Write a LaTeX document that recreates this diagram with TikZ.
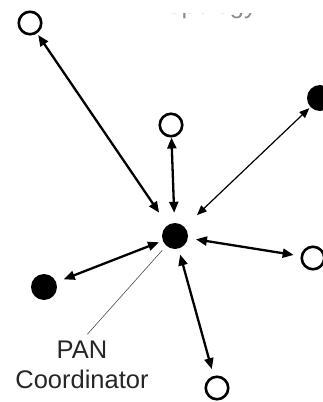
\documentclass[tikz,border=0pt]{standalone}
\usepackage{fontspec}
\setmainfont{Liberation Sans}
\usetikzlibrary{arrows.meta}
\begin{document}
\begin{tikzpicture}[x=1pt,y=-1pt,
  opennode/.style={circle,draw=black,line width=2.6pt,fill=white,minimum size=22.5pt,inner sep=0pt},
  fillnode/.style={circle,fill=black,minimum size=26pt,inner sep=0pt},
  link/.style={line width=2.3pt,{Triangle[length=11pt,width=9pt]}-{Triangle[length=11pt,width=9pt]}},
  thinlink/.style={line width=1.2pt,{Triangle[length=10pt,width=8pt]}-{Triangle[length=10pt,width=8pt]}},
  pointer/.style={line width=0.6pt,draw=black!70},
  lbl/.style={font=\fontsize{25.5}{30}\selectfont,text=black!85,anchor=base,inner sep=0pt}]
\useasboundingbox (0,0) rectangle (323,402);
\clip (0,0) rectangle (323,402);

\begin{scope}
  \clip (0,13) rectangle (323,40);
  \node[lbl,anchor=base west,text=black!45] (title) at (154.5,13) {Topology};
\end{scope}

\node[opennode] (tl) at (30,23) {};
\node[fillnode] (tr) at (320,98) {};
\node[opennode] (tm) at (171,125) {};
\node[fillnode] (c) at (175,236) {};
\node[opennode] (r) at (313,258) {};
\node[fillnode] (l) at (44,287) {};
\node[opennode] (b) at (217,388) {};

\node[lbl] (pan) at (82,358) {PAN};
\node[lbl] (coord) at (82,388) {Coordinator};

\draw[link,shorten <=2pt,shorten >=15pt] (tl) -- (c);
\draw[link,shorten <=0pt,shorten >=10pt] (tm) -- (c);
\draw[thinlink,shorten <=1.5pt,shorten >=17pt] (tr) -- (c);
\draw[link,shorten <=7pt,shorten >=8pt] (r) -- (c);
\draw[link,shorten <=8pt,shorten >=4pt] (l) -- (c);
\draw[link,shorten <=7pt,shorten >=6pt] (b) -- (c);
\draw[pointer,shorten <=6pt,shorten >=8pt] (c) -- (pan.north);
\end{tikzpicture}
\end{document}
